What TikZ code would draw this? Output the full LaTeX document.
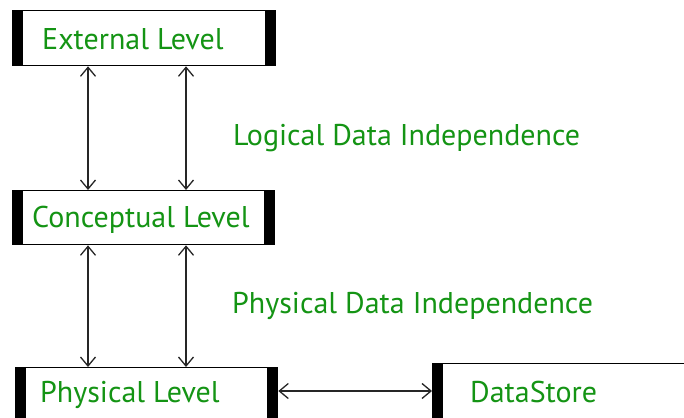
\documentclass[tikz,border=0pt]{standalone}
\usepackage{fontspec}
\setmainfont{PT Sans}
\usetikzlibrary{arrows.meta}
\definecolor{lblgreen}{RGB}{20,148,20}
\tikzset{
  levelbox/.style={draw=black, line width=1.3pt, fill=white, inner sep=0pt, anchor=north west,
    path picture={\fill[black] (path picture bounding box.north west) rectangle ([xshift=10.5pt]path picture bounding box.south west);
                  \fill[black] (path picture bounding box.north east) rectangle ([xshift=-10.5pt]path picture bounding box.south east);}},
  lbl/.style={text=lblgreen, font=\fontsize{30}{35}\selectfont, anchor=base west, inner sep=0pt},
  link/.style={draw=black!85, line width=1.3pt, {Straight Barb[length=9pt,width=15pt]}-{Straight Barb[length=9pt,width=15pt]}}
}
\begin{document}
\begin{tikzpicture}[x=1pt,y=-1pt]
\useasboundingbox (0,0) rectangle (684,417);
\clip (0,0) rectangle (684,417);
\node[levelbox, minimum width=263pt, minimum height=55pt] (ext) at (12,10) {};
\node[levelbox, minimum width=262pt, minimum height=54pt] (con) at (12,190) {};
\node[levelbox, minimum width=262pt, minimum height=70pt] (phy) at (15,367) {};
\node[levelbox, minimum width=280pt, minimum height=70pt] (ds) at (432,363) {};
\node[lbl] (t1) at (42,50) {External Level};
\node[lbl] (t2) at (32,227) {Conceptual Level};
\node[lbl] (t3) at (40,402) {Physical Level};
\node[lbl] (t4) at (470,402) {DataStore};
\node[lbl] (l1) at (233,145) {Logical Data Independence};
\node[lbl] (l2) at (232,313) {Physical Data Independence};
\coordinate (a1) at (88,0); \coordinate (a2) at (186,0);
\draw[link] (ext.south -| a1) -- (con.north -| a1);
\draw[link] (ext.south -| a2) -- (con.north -| a2);
\draw[link] (con.south -| a1) -- (phy.north -| a1);
\draw[link] (con.south -| a2) -- (phy.north -| a2);
\coordinate (h) at (0,391);
\draw[link] (phy.east |- h) -- (ds.west |- h);
\end{tikzpicture}
\end{document}
